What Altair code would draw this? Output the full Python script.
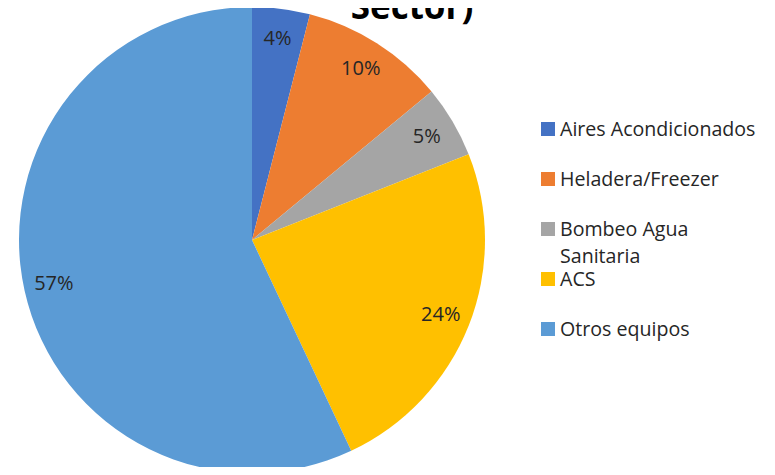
import altair as alt
import pandas as pd

categories = ["Aires Acondicionados", "Heladera/Freezer", "Bombeo Agua Sanitaria", "ACS", "Otros equipos"]
legend_labels = ["Aires Acondicionados", "Heladera/Freezer", "Bombeo Agua\nSanitaria", "ACS", "Otros equipos"]
values = [4, 10, 5, 24, 57]
colors = ["#4472C4", "#ED7D31", "#A5A5A5", "#FFC000", "#5B9BD5"]
title_text = ["Sector)"]

df = pd.DataFrame({
    "cat": categories,
    "legend": legend_labels,
    "val": values,
    "idx": list(range(len(categories))),
})
df["pct"] = [f"{v}%" for v in values]

FONT = "Open Sans"
TXT = "#262626"
CX, CY, R = 244, 232, 233

color = alt.Color("cat:N", scale=alt.Scale(domain=categories, range=colors), legend=None)
theta = alt.Theta("val:Q", stack=True)
order = alt.Order("idx:Q")

base = alt.Chart(df)

pie = base.mark_arc(radius=R).encode(
    theta=theta, color=color, order=order,
    x=alt.value(CX), y=alt.value(CY),
)

labels = base.mark_text(radius=203, font=FONT, fontSize=20, color=TXT).encode(
    theta=theta, order=order, text="pct:N",
    x=alt.value(CX), y=alt.value(CY),
)

ly = alt.Y("cat:N", sort=categories, scale=alt.Scale(range=[121, 321], padding=0), axis=None)

leg_sq = base.mark_square(size=196, opacity=1).encode(
    y=ly, color=color, x=alt.value(540),
)

leg_txt = base.mark_text(align="left", baseline="alphabetic", dy=7, font=FONT, fontSize=19.6,
                         color=TXT, lineBreak="\n", lineHeight=27).encode(
    y=ly, text="legend:N", x=alt.value(552),
)

title = alt.Chart(pd.DataFrame({"t": title_text})).mark_text(
    align="center", baseline="alphabetic", font=FONT, fontSize=35, fontWeight="bold", color="#000000"
).encode(text="t:N", x=alt.value(404), y=alt.value(11))

chart = alt.layer(pie, labels, leg_sq, leg_txt, title).properties(
    width=759, height=459, padding=0, autosize=alt.AutoSizeParams(type="none")
).configure_view(stroke=None)

chart.save("out.html", embed_options={"renderer": "svg", "actions": False})
